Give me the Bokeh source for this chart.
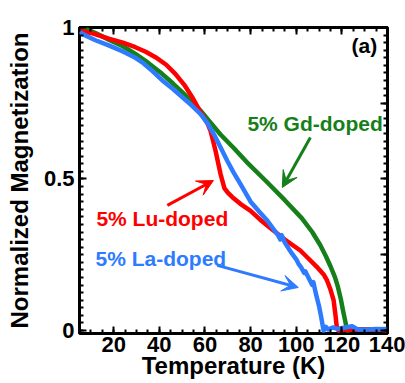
from bokeh.plotting import figure
from bokeh.models import (Range1d, LinearAxis, FixedTicker, Label, Arrow, VeeHead)
from bokeh.embed import file_html
from bokeh.resources import INLINE

# ---- data ----
gd_T = [5, 8, 12, 17.8, 24, 29.5, 35, 41.2, 46, 50, 54, 58, 62, 66.8, 72.5, 78.4, 86.5, 95, 102.5, 107, 110.5, 113, 115, 117, 118.3, 119.5, 120.5, 121.5, 122.3, 126, 132, 140]
gd_M = [1.0, 0.995, 0.982, 0.96, 0.938, 0.913, 0.884, 0.847, 0.815, 0.787, 0.757, 0.726, 0.69, 0.647, 0.603, 0.555, 0.495, 0.43, 0.37, 0.325, 0.282, 0.245, 0.212, 0.175, 0.143, 0.105, 0.066, 0.03, 0.0, 0.004, 0.002, 0.005]

lu_T = [5, 10, 17.8, 24, 29.5, 34, 38.3, 43, 47, 51, 54.4, 57, 59.4, 61, 62.4, 64.6, 66.8, 68.5, 70, 72, 75.5, 80, 84.3, 90, 95, 101.8, 105, 109, 112, 113.5, 115, 116.4, 117.2, 117.8, 118.5, 122, 128, 135, 140]
lu_M = [0.99, 0.982, 0.963, 0.95, 0.935, 0.92, 0.902, 0.877, 0.847, 0.81, 0.77, 0.735, 0.704, 0.685, 0.66, 0.594, 0.517, 0.47, 0.455, 0.44, 0.418, 0.395, 0.365, 0.33, 0.30, 0.264, 0.24, 0.21, 0.185, 0.165, 0.135, 0.099, 0.05, 0.01, 0.0, 0.003, 0.002, 0.004, 0.0]

la_T = [5, 8, 12, 17.8, 24, 29.5, 33, 37, 41.2, 46, 50, 54, 58, 61, 63.8, 66.8, 69.7, 72.5, 75.5, 80, 84, 87.3, 90, 92, 93, 93.6, 95, 98, 100, 101, 102, 103.5, 104, 106, 107, 107.5, 108.5, 110, 110.8, 111.5, 112, 113, 114, 116, 118, 124.5, 127, 130, 135, 140]
la_M = [0.985, 0.972, 0.958, 0.941, 0.921, 0.90, 0.882, 0.856, 0.826, 0.797, 0.77, 0.744, 0.715, 0.685, 0.649, 0.605, 0.561, 0.522, 0.484, 0.425, 0.39, 0.363, 0.335, 0.315, 0.30, 0.315, 0.29, 0.255, 0.235, 0.22, 0.21, 0.19, 0.195, 0.165, 0.15, 0.16, 0.125, 0.08, 0.05, 0.02, 0.0, 0.012, 0.003, 0.01, 0.005, 0.014, 0.003, 0.002, 0.005, 0.004]

x_ticks = [20, 40, 60, 80, 100, 120, 140]
y_ticks = [0, 0.5, 1.0]
y_mirror_ticks = [0, 0.25, 0.5, 0.75, 1.0]
y_tick_labels = {0: "0", 0.5: "0.5", 1.0: "1"}

GREEN = "#15801a"
RED = "#ff0000"
BLUE = "#2e7bff"
FONT = "Liberation Sans"

p = figure(width=405, height=383, output_backend="svg", toolbar_location=None,
           x_range=Range1d(5, 140), y_range=Range1d(-0.01, 1.0),
           min_border_left=79, min_border_top=27, min_border_right=18, min_border_bottom=50)
p.grid.visible = False
p.outline_line_color = "black"
p.outline_line_width = 3
p.background_fill_color = "white"
p.border_fill_color = "white"

x_minor = [v for v in range(5, 141, 5)]
y_minor = [round(i * 0.025, 3) for i in range(0, 41)]
xt = FixedTicker(ticks=x_ticks, minor_ticks=x_minor)
yt = FixedTicker(ticks=y_ticks, minor_ticks=y_minor)
yt_mirror = FixedTicker(ticks=y_mirror_ticks, minor_ticks=y_minor)

def style(ax, show_labels):
    ax.axis_line_color = None
    ax.major_tick_in = 7
    ax.major_tick_out = 0
    ax.minor_tick_in = 4
    ax.minor_tick_out = 0
    ax.major_tick_line_width = 2
    ax.minor_tick_line_width = 2
    ax.major_tick_line_color = "black"
    ax.minor_tick_line_color = "black"
    if show_labels:
        ax.major_label_text_font = FONT
        ax.major_label_text_font_style = "bold"
        ax.major_label_text_font_size = "22px"
        ax.major_label_text_color = "black"
        ax.axis_label_text_font = FONT
        ax.axis_label_text_font_style = "bold"
        ax.axis_label_text_font_size = "24px"
        ax.axis_label_text_color = "black"
    else:
        ax.major_label_text_color = None
        ax.major_label_text_font_size = "8px"
        ax.major_label_standoff = 0

p.xaxis.ticker = xt
p.yaxis.ticker = yt
p.yaxis.major_label_overrides = y_tick_labels
p.xaxis.axis_label = "Temperature (K)"
p.yaxis.axis_label = "Normalized Magnetization"
style(p.xaxis[0], True)
style(p.yaxis[0], True)
p.xaxis.major_label_standoff = 3
p.xaxis.axis_label_standoff = -3
p.yaxis.major_label_standoff = 5
p.yaxis.axis_label_standoff = 8

top = LinearAxis(ticker=xt)
right = LinearAxis(ticker=yt_mirror)
style(top, False)
style(right, False)
p.add_layout(top, "above")
p.add_layout(right, "right")

p.line(gd_T, gd_M, line_color=GREEN, line_width=4.5, line_join="round")
p.line(lu_T, lu_M, line_color=RED, line_width=4.5, line_join="round")
p.line(la_T, la_M, line_color=BLUE, line_width=4.5, line_join="round")

def arrow(x0, y0, x1, y1, c):
    p.add_layout(Arrow(end=VeeHead(size=16, fill_color=c, line_color=c, line_width=1),
                       x_start=x0, y_start=y0, x_end=x1, y_end=y1,
                       line_color=c, line_width=3))

arrow(106.2, 0.637, 93.9, 0.472, GREEN)
arrow(43.5, 0.413, 63.7, 0.495, RED)
arrow(65.4, 0.215, 100.9, 0.142, BLUE)

def label(x, y, t, c, align="left"):
    p.add_layout(Label(x=x, y=y, text=t, text_color=c, text_font=FONT,
                       text_font_style="bold", text_font_size="21px",
                       text_align=align, text_baseline="middle"))

label(78.6, 0.683, "5% Gd-doped", GREEN)
label(12.4, 0.37, "5% Lu-doped", RED)
label(12.0, 0.238, "5% La-doped", BLUE)
label(135.5, 0.94, "(a)", "black", align="right")

open("out.html", "w").write(file_html(p, INLINE))
